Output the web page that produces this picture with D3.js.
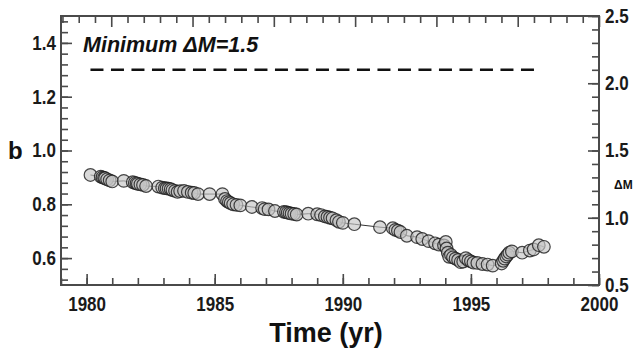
<!DOCTYPE html>
<html><head><meta charset="utf-8">
<script src="https://cdn.jsdelivr.net/npm/d3@7"></script>
<style>
html,body{margin:0;padding:0;background:#fff;}
svg{display:block;font-family:"Liberation Sans",Arial,sans-serif;}
</style></head>
<body>
<svg id="c" width="638" height="349"></svg>
<script>
// Data
const years = [1980.15,1980.55,1980.62,1980.68,1980.72,1980.80,1980.90,1981.00,1981.45,1981.80,1981.88,1981.95,1982.00,1982.10,1982.20,1982.32,
 1982.80,1982.95,1983.05,1983.12,1983.20,1983.28,1983.35,1983.45,1983.55,1983.65,1983.80,1983.95,1984.10,1984.20,1984.35,1984.80,
 1985.30,1985.40,1985.48,1985.55,1985.62,1985.72,1985.85,1986.00,1986.45,1986.85,1986.95,1987.10,1987.35,1987.70,1987.78,1987.85,1987.92,
 1988.00,1988.10,1988.20,1988.65,1989.00,1989.15,1989.30,1989.40,1989.50,1989.60,1989.75,1989.85,1990.00,1990.45,1991.45,1991.95,
 1992.05,1992.15,1992.25,1992.50,1992.90,1993.10,1993.35,1993.60,1993.75,1993.95,1994.02,1994.05,1994.10,1994.15,1994.22,
 1994.30,1994.40,1994.50,1994.60,1994.70,1994.80,1994.90,1995.00,1995.10,1995.25,1995.45,1995.65,1995.85,1996.20,1996.26,
 1996.32,1996.38,1996.44,1996.50,1996.60,1997.00,1997.30,1997.45,1997.65,1997.85];
const bValues = [0.909,0.903,0.900,0.898,0.897,0.893,0.889,0.885,0.887,0.882,0.880,0.878,0.876,0.874,0.872,0.868,
 0.866,0.862,0.860,0.859,0.858,0.856,0.853,0.850,0.846,0.849,0.850,0.846,0.843,0.842,0.838,0.838,
 0.838,0.820,0.812,0.808,0.804,0.800,0.798,0.796,0.790,0.786,0.782,0.781,0.775,0.772,0.771,0.769,0.767,
 0.765,0.764,0.762,0.765,0.763,0.760,0.755,0.753,0.750,0.748,0.741,0.735,0.731,0.726,0.715,0.711,
 0.705,0.702,0.697,0.683,0.678,0.671,0.663,0.655,0.650,0.647,0.660,0.636,0.620,0.605,0.612,
 0.603,0.598,0.593,0.585,0.587,0.600,0.592,0.588,0.583,0.582,0.578,0.576,0.572,0.580,0.590,
 0.598,0.606,0.613,0.620,0.625,0.620,0.628,0.632,0.648,0.642];
const minDeltaM = 1.5;
const thresholdB = 1.3;
const thresholdSpan = [1980.15, 1997.6];
const xMajorTicks = [1980,1985,1990,1995,2000];
const xMinorTicks = d3.range(1979, 2001);
const yMajorTicks = [0.6,0.8,1.0,1.2,1.4];
const yMinorTicks = d3.range(0,25).map(i => +(0.52 + i*0.04).toFixed(2));
const rMajorTicks = [0.5,1.0,1.5,2.0,2.5];
const rMinorTicks = d3.range(0,21).map(i => +(0.5 + i*0.1).toFixed(1));
const topMinorTicks = d3.range(-33, 1);

const svg = d3.select("#c");
const L = 61, R = 599, T = 16, B = 285;
const x = d3.scaleLinear().domain([1979, 2000]).range([L, R]);
const y = d3.scaleLinear().domain([0.5, 1.5]).range([B, T]);
const yr = d3.scaleLinear().domain([0.5, 2.5]).range([B, T]);
const xt = d3.scaleLinear().domain([-33.09, 0]).range([L, R]);

const axisColor = "#4a4a4a";
function style(g){
  g.select(".domain").remove();
  g.selectAll(".tick line").attr("stroke", axisColor).attr("stroke-width", 1.6);
  g.selectAll(".tick text").attr("fill", "#1a1a1a").attr("font-size", 20).attr("font-weight", "bold")
    .each(function(){
      const w = this.getComputedTextLength();
      d3.select(this).attr("textLength", w*0.85).attr("lengthAdjust","spacingAndGlyphs");
    });
}
// bottom
svg.append("g").attr("transform",`translate(0,${B})`)
  .call(d3.axisBottom(x).tickValues(xMinorTicks).tickSize(-7).tickFormat("")).call(style);
svg.append("g").attr("transform",`translate(0,${B})`)
  .call(d3.axisBottom(x).tickValues(xMajorTicks).tickSize(-11).tickPadding(12).tickFormat(d3.format("d"))).call(style);
// top
svg.append("g").attr("transform",`translate(0,${T})`)
  .call(d3.axisTop(xt).tickValues(topMinorTicks).tickSize(-7).tickFormat("")).call(style)
  .selectAll(".tick line").attr("y2", d => (d % 5 === 0) ? 11 : 7);
// left
svg.append("g").attr("transform",`translate(${L},0)`)
  .call(d3.axisLeft(y).tickValues(yMinorTicks).tickSize(-7).tickFormat("")).call(style);
svg.append("g").attr("transform",`translate(${L},0)`)
  .call(d3.axisLeft(y).tickValues(yMajorTicks).tickSize(-11).tickPadding(5).tickFormat(d3.format(".1f"))).call(style);
// right
svg.append("g").attr("transform",`translate(${R},0)`)
  .call(d3.axisRight(yr).tickValues(rMinorTicks).tickSize(-7).tickFormat("")).call(style);
svg.append("g").attr("transform",`translate(${R},0)`)
  .call(d3.axisRight(yr).tickValues(rMajorTicks).tickSize(-11).tickPadding(6).tickFormat(d3.format(".1f"))).call(style);

// frame
svg.append("rect").attr("x",L).attr("y",T).attr("width",R-L).attr("height",B-T)
  .attr("fill","none").attr("stroke",axisColor).attr("stroke-width",2);

// threshold dashed line
svg.append("line")
  .attr("x1", x(thresholdSpan[0])).attr("x2", x(thresholdSpan[1]))
  .attr("y1", y(thresholdB)).attr("y2", y(thresholdB))
  .attr("stroke","#111").attr("stroke-width",2.6).attr("stroke-dasharray","13,7.5");

// connecting line
const pts = years.map((t,i)=>({t, b:bValues[i]}));
svg.append("path").datum(pts)
  .attr("d", d3.line().x(d=>x(d.t)).y(d=>y(d.b)))
  .attr("fill","none").attr("stroke","#333").attr("stroke-width",1);
svg.append("g").selectAll("circle").data(pts).join("circle")
  .attr("cx", d=>x(d.t)).attr("cy", d=>y(d.b)).attr("r", 6.3)
  .attr("fill","#c4c4c4").attr("fill-opacity",0.65)
  .attr("stroke","#1a1a1a").attr("stroke-opacity",0.8).attr("stroke-width",1.2);

// texts
svg.append("text").attr("x",83).attr("y",51.5)
  .attr("font-size",21.5).attr("font-weight","bold").attr("font-style","italic").attr("fill","#111")
  .text("Minimum ΔM=" + minDeltaM);
svg.append("text").attr("x",8).attr("y",159).attr("font-size",24).attr("font-weight","bold").attr("fill","#111").text("b");
svg.append("text").attr("x",326).attr("y",342).attr("text-anchor","middle")
  .attr("font-size",27).attr("font-weight","bold").attr("fill","#111").text("Time (yr)");
svg.append("text").attr("x",614).attr("y",189).attr("font-size",12).attr("font-weight","bold").attr("fill","#111").text("ΔM");
</script>
</body></html>
